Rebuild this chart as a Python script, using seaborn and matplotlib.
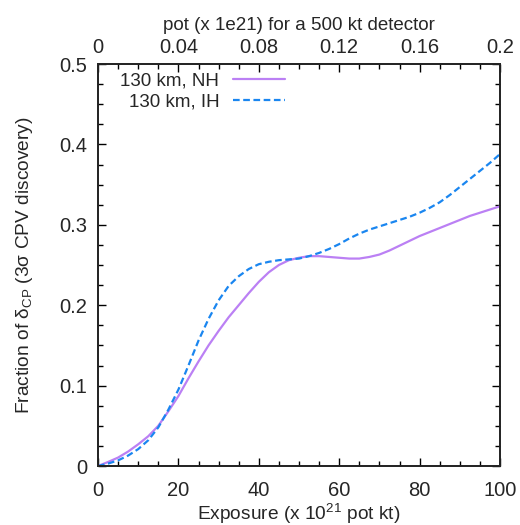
import matplotlib
matplotlib.use("Agg")
import matplotlib.pyplot as plt
import seaborn as sns
import pandas as pd
from matplotlib.ticker import MultipleLocator

exposure = [0, 2.5, 5, 7.5, 10, 12.5, 15, 17.5, 20, 22.5, 25, 27.5, 30, 32.5, 35, 37.5,
            40, 42.5, 45, 47.5, 50, 52.5, 55, 57.5, 60, 62.5, 65, 67.5, 70, 72.5, 75,
            77.5, 80, 82.5, 85, 87.5, 90, 92.5, 95, 97.5, 100]
nh = [0, 0.005, 0.0105, 0.018, 0.027, 0.037, 0.05, 0.068, 0.087, 0.109, 0.13, 0.15,
      0.168, 0.185, 0.2, 0.215, 0.229, 0.241, 0.25, 0.256, 0.259, 0.261, 0.261, 0.26,
      0.259, 0.258, 0.258, 0.26, 0.263, 0.268, 0.274, 0.28, 0.286, 0.291, 0.296, 0.301,
      0.306, 0.311, 0.315, 0.319, 0.323]
ih = [0, 0.003, 0.007, 0.013, 0.021, 0.032, 0.048, 0.07, 0.095, 0.125, 0.156, 0.183,
      0.206, 0.224, 0.236, 0.245, 0.251, 0.254, 0.256, 0.257, 0.258, 0.261, 0.265, 0.27,
      0.276, 0.283, 0.289, 0.294, 0.298, 0.302, 0.306, 0.31, 0.315, 0.321, 0.328, 0.337,
      0.347, 0.357, 0.367, 0.377, 0.388]
labels = ["130 km, NH", "130 km, IH"]

df = pd.DataFrame({
    "x": exposure * 2,
    "y": nh + ih,
    "case": [labels[0]] * len(exposure) + [labels[1]] * len(exposure),
})

sns.set_theme(style="ticks")
plt.rcParams["font.family"] = ["Liberation Sans", "DejaVu Sans"]
plt.rcParams["mathtext.fontset"] = "custom"
plt.rcParams["mathtext.rm"] = "Liberation Sans"
plt.rcParams["mathtext.it"] = "Liberation Sans"
plt.rcParams["mathtext.default"] = "regular"

fig = plt.figure(figsize=(5.2, 5.25), dpi=100)
ax = fig.add_axes([98 / 520, 59 / 525, 402 / 520, 402 / 525])

sns.lineplot(data=df, x="x", y="y", hue="case", style="case",
             palette={labels[0]: "#bb80f4", labels[1]: "#1a86f0"},
             dashes={labels[0]: "", labels[1]: (3, 1.6)},
             linewidth=1.6, ax=ax)

TICK_FS = 14.5
ax.set_xlim(0, 100)
ax.set_ylim(0, 0.5)
ax.xaxis.set_major_locator(MultipleLocator(20))
ax.xaxis.set_minor_locator(MultipleLocator(5))
ax.yaxis.set_major_locator(MultipleLocator(0.1))
ax.yaxis.set_minor_locator(MultipleLocator(0.025))
ax.set_yticks([0, 0.1, 0.2, 0.3, 0.4, 0.5])
ax.set_yticklabels(["0", "0.1", "0.2", "0.3", "0.4", "0.5"])
ax.tick_params(which="both", direction="in", right=True, top=False, labelsize=TICK_FS,
               color="black", width=1.0)
ax.tick_params(axis="x", which="both", pad=11)
ax.tick_params(axis="y", which="both", pad=8)
ax.tick_params(which="major", length=6)
ax.tick_params(which="minor", length=3.5)
for s in ax.spines.values():
    s.set_linewidth(1.2)
    s.set_color("black")
    s.set_visible(True)

ax.set_xlabel("Exposure (x 10$^{21}$ pot kt)", fontsize=13.8, labelpad=1.5)
ax.set_ylabel("Fraction of δ$_{CP}$ (3σ CPV discovery)", fontsize=13.8, labelpad=17)

ax2 = ax.twiny()
ax2.set_xlim(0, 0.2)
ax2.xaxis.set_major_locator(MultipleLocator(0.04))
ax2.xaxis.set_minor_locator(MultipleLocator(0.01))
ax2.set_xticks([0, 0.04, 0.08, 0.12, 0.16, 0.2])
ax2.set_xticklabels(["0", "0.04", "0.08", "0.12", "0.16", "0.2"])
ax2.tick_params(which="both", direction="in", labelsize=TICK_FS, color="black",
                width=1.0, pad=5)
ax2.tick_params(which="major", length=6)
ax2.tick_params(which="minor", length=3.5)
ax2.set_xlabel("pot (x 1e21) for a 500 kt detector", fontsize=13.5, labelpad=6)

handles, labs = ax.get_legend_handles_labels()
leg = ax.legend(handles, labs, loc="upper right", bbox_to_anchor=((285 - 98) / 402, 0.978),
                frameon=False, markerfirst=False, fontsize=13.5, handlelength=2.8,
                handletextpad=0.7, labelspacing=0.2, borderaxespad=0.0, borderpad=0.0)
for t in leg.get_texts():
    t.set_ha("right")

fig.savefig("out.png", dpi=100)
